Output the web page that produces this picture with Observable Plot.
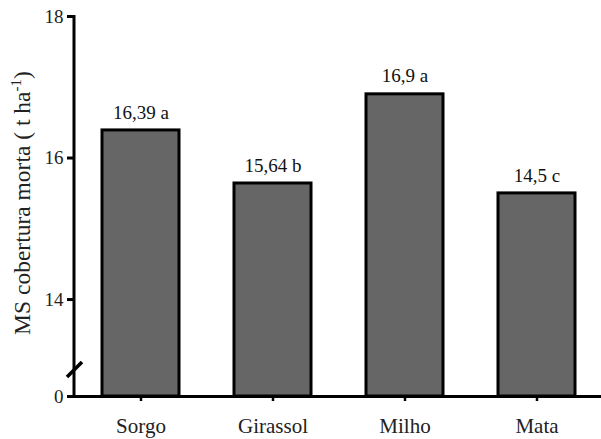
<!DOCTYPE html>
<html><head><meta charset="utf-8">
<script src="https://cdn.jsdelivr.net/npm/d3@7"></script>
<script src="https://cdn.jsdelivr.net/npm/@observablehq/plot@0.6"></script>
<style>body{margin:0;background:#fff} svg{display:block}</style>
</head><body><div id="chart"></div>
<script>
const categories = ["Sorgo", "Girassol", "Milho", "Mata"];
const values = [16.39, 15.64, 16.9, 15.5];
const labels = ["16,39 a", "15,64 b", "16,9 a", "14,5 c"];
// broken axis: the baseline (labelled "0") sits just below 14
const yFloor = 12.63;
const yTicks = [yFloor, 14, 16, 18];
const yTickLabels = ["0", "14", "16", "18"];
const yTitle = "MS cobertura morta ( t ha";
const yTitleSup = "-1";
const yTitleEnd = ")";

const data = categories.map((c, i) => ({c, v: values[i], l: labels[i]}));
const font = "'Liberation Serif', 'Times New Roman', serif";

const decor = (index, scales, vals, dims) => {
  const y = scales.y;
  const x0 = dims.marginLeft;
  const g = d3.create("svg:g");
  g.append("line").attr("x1", x0).attr("x2", x0).attr("y1", y(18) - 1).attr("y2", y(yFloor))
    .attr("stroke", "#000").attr("stroke-width", 3);
  const by = y(yFloor) - 26;
  g.append("line").attr("x1", x0 - 7).attr("y1", by + 7).attr("x2", x0 + 8).attr("y2", by - 8)
    .attr("stroke", "#000").attr("stroke-width", 3.5);
  const t = g.append("text")
    .attr("transform", `translate(30,${(y(18) + y(yFloor)) / 2 - 3}) rotate(-90)`)
    .attr("text-anchor", "middle")
    .attr("font-family", font).attr("font-size", 23.5).attr("fill", "#222");
  t.append("tspan").text(yTitle);
  t.append("tspan").attr("font-size", 15).attr("dy", -9).text(yTitleSup);
  t.append("tspan").attr("dy", 9).text(yTitleEnd);
  return g.node();
};

const chart = Plot.plot({
  width: 601,
  height: 439,
  marginLeft: 74,
  marginRight: 0,
  marginTop: 0,
  marginBottom: 43,
  style: {fontFamily: font, background: "#fff", color: "#000"},
  x: {domain: categories, range: [101.5, 574.5], paddingInner: 0.417, paddingOuter: 0, label: null},
  y: {domain: [yFloor, 18], range: [396, 16], label: null},
  marks: [
    Plot.barY(data, {x: "c", y1: yFloor, y2: "v", fill: "#666666", stroke: "#000", strokeWidth: 3}),
    Plot.ruleY([yFloor], {stroke: "#000", strokeWidth: 3}),
    Plot.text(data, {x: "c", y: "v", text: "l", dy: -18, fontSize: 19, fill: "#111"}),
    Plot.axisY({ticks: yTicks, tickSize: 7, tickPadding: 4, fontSize: 19, strokeWidth: 3, label: null,
      tickFormat: d => yTickLabels[yTicks.indexOf(d)], fill: "#222"}),
    Plot.axisX({tickSize: 5, tickPadding: 17, fontSize: 21, strokeWidth: 2.5, label: null, fill: "#222"}),
    decor
  ]
});
document.getElementById("chart").appendChild(chart);
</script>
</body></html>
